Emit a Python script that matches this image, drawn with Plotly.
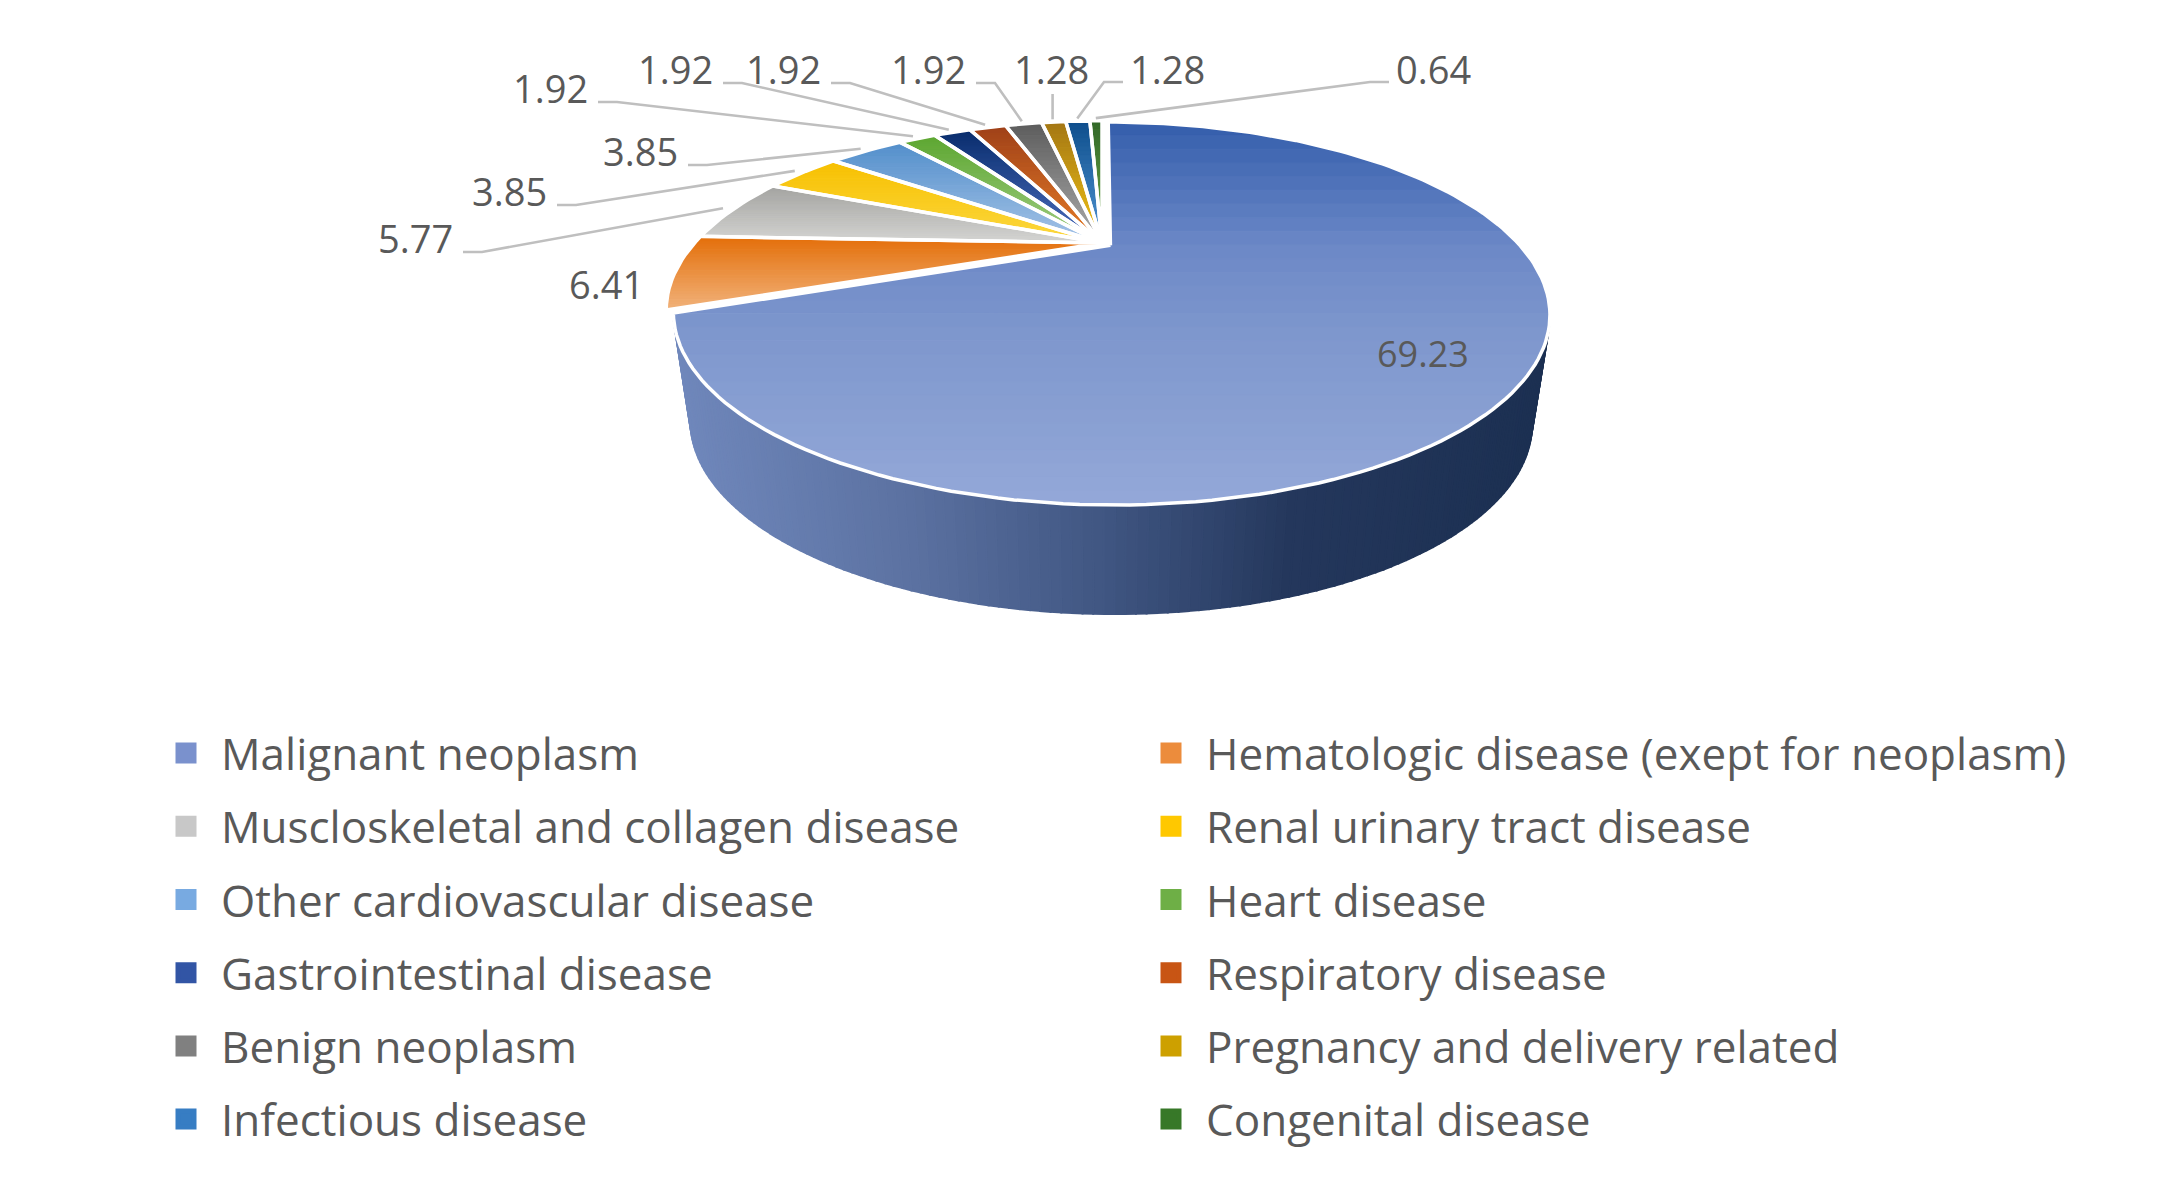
import numpy as np
import plotly.graph_objects as go

# ---------------- data ----------------
categories = [
    "Malignant neoplasm",
    "Hematologic disease (exept for neoplasm)",
    "Muscloskeletal and collagen disease",
    "Renal urinary tract disease",
    "Other cardiovascular disease",
    "Heart disease",
    "Gastrointestinal disease",
    "Respiratory disease",
    "Benign neoplasm",
    "Pregnancy and delivery related",
    "Infectious disease",
    "Congenital disease",
]
values = [69.23, 6.41, 5.77, 3.85, 3.85, 1.92, 1.92, 1.92, 1.92, 1.28, 1.28, 0.64]

# ---------------- styles ----------------
top_stops = [
    [(0, (52, 94, 172)), (0.33, (108, 136, 199)), (0.55, (126, 151, 205)), (1, (148, 168, 216))],
    [(0, (228, 110, 8)), (1, (241, 178, 122))],
    [(0, (163, 163, 160)), (1, (212, 212, 210))],
    [(0, (247, 192, 0)), (1, (252, 216, 64))],
    [(0, (82, 142, 203)), (1, (166, 196, 231))],
    [(0, (92, 166, 48)), (1, (162, 206, 132))],
    [(0, (8, 44, 108)), (1, (78, 112, 192))],
    [(0, (158, 64, 24)), (1, (232, 126, 40))],
    [(0, (92, 92, 92)), (1, (172, 172, 172))],
    [(0, (163, 118, 20)), (1, (242, 196, 20))],
    [(0, (14, 78, 140)), (1, (82, 150, 212))],
    [(0, (50, 104, 40)), (1, (112, 172, 72))],
]
side_stops = [(0, (112, 136, 188)), (0.27, (92, 114, 162)), (0.5, (64, 86, 130)),
              (0.72, (36, 55, 92)), (1, (28, 48, 82))]
legend_colors = ["#7A91CD", "#EC8C3C", "#C8C8C8", "#FFC800", "#78AAE1", "#6EAF46",
                 "#3255A5", "#C85514", "#808080", "#CDA000", "#377DC3", "#377828"]
pulls = [0.025] + [0.0] * 11

DX, DY = -10, -12   # global placement offset of pie and labels
label_xy = [(1425, 357), (608, 288), (417, 242), (511, 195), (642, 155), (552, 92),
            (677, 73), (785, 73), (930, 73), (1053, 73), (1169, 73), (1435, 73)]
leader_kind = ["none", "none", "left", "left", "left", "left", "left", "left", "left",
               "below", "right", "right"]

W, H = 2179, 1194
CX, CY = 1104 + DX, 247 + DY      # projected centre of the pie top
A, B, C = 407.5, 165.5, 0.3544    # perspective projection parameters
DEPTH, BOT_SCALE = 109, 0.96
TEXT = "#595959"
FONT = "Open Sans"


def project(X, Z):
    X = np.asarray(X, float)
    Z = np.asarray(Z, float)
    d = 1 + C * Z
    return CX + A * X / d, CY - B * Z / d


def lerp_stops(stops, t):
    t = min(max(t, 0.0), 1.0)
    for (t0, c0), (t1, c1) in zip(stops[:-1], stops[1:]):
        if t <= t1:
            f = 0 if t1 == t0 else (t - t0) / (t1 - t0)
            return "rgb(%d,%d,%d)" % tuple(round(a + (b - a) * f) for a, b in zip(c0, c1))
    return "rgb(%d,%d,%d)" % stops[-1][1]


def clip_half(poly, y0, keep_above):
    out = []
    n = len(poly)
    for i in range(n):
        p, q = poly[i], poly[(i + 1) % n]
        pin = p[1] >= y0 if keep_above else p[1] <= y0
        qin = q[1] >= y0 if keep_above else q[1] <= y0
        if pin:
            out.append(p)
        if pin != qin:
            t = (y0 - p[1]) / (q[1] - p[1])
            out.append((p[0] + t * (q[0] - p[0]), y0))
    return out


total = sum(values)
cum = np.concatenate([[0], np.cumsum(values)])
phi_start = np.radians(90 - 360 * cum[:-1] / total)
phi_end = np.radians(90 - 360 * cum[1:] / total)
phi_mid = (phi_start + phi_end) / 2
pull_x = np.array(pulls) * np.cos(phi_mid)
pull_z = np.array(pulls) * np.sin(phi_mid)

fig = go.Figure()

# ---- side wall (front visible part) ----
vis_lo, vis_hi = -np.pi + np.arcsin(C), -np.arcsin(C)   # silhouette angles
x_left = CX - A / np.sqrt(1 - C * C)
x_right = CX + A / np.sqrt(1 - C * C)
for i in range(len(values)):
    lo = max(phi_end[i], vis_lo)
    hi = min(phi_start[i], vis_hi)
    if hi - lo < np.radians(0.5):
        continue
    n = max(4, int(np.degrees(hi - lo) / 1.0))
    ph = np.linspace(hi, lo, n + 1)
    tx, ty = project(np.cos(ph) + pull_x[i], np.sin(ph) + pull_z[i])
    bx = CX + (tx - CX) * BOT_SCALE
    by = ty + DEPTH
    for k in range(n):
        xs = [tx[k], tx[k + 1], bx[k + 1], bx[k], tx[k]]
        ys = [ty[k], ty[k + 1], by[k + 1], by[k], ty[k]]
        f = ((tx[k] + tx[k + 1]) / 2 - x_left) / (x_right - x_left)
        col = lerp_stops(side_stops, f)
        fig.add_trace(go.Scatter(x=xs, y=ys, mode="lines", fill="toself", fillcolor=col,
                                 line=dict(color=col, width=2), hoverinfo="skip",
                                 showlegend=False))

# ---- top faces with vertical gradient ----
outlines = []
for i in range(len(values)):
    n = max(6, int(np.degrees(phi_start[i] - phi_end[i]) / 1.5))
    ph = np.linspace(phi_start[i], phi_end[i], n + 1)
    rx, ry = project(np.cos(ph) + pull_x[i], np.sin(ph) + pull_z[i])
    ax_, ay_ = project(pull_x[i], pull_z[i])
    poly = [(float(ax_), float(ay_))] + list(zip(rx.tolist(), ry.tolist()))
    outlines.append(poly)
    ys_all = [p[1] for p in poly]
    ymin, ymax = min(ys_all), max(ys_all)
    nb = 28
    edges = np.linspace(ymin, ymax, nb + 1)
    for k in range(nb):
        piece = clip_half(poly, edges[k] - 0.3, True)
        if len(piece) < 3:
            continue
        piece = clip_half(piece, edges[k + 1] + 0.3, False)
        if len(piece) < 3:
            continue
        col = lerp_stops(top_stops[i], (k + 0.5) / nb)
        xs = [p[0] for p in piece] + [piece[0][0]]
        ys = [p[1] for p in piece] + [piece[0][1]]
        fig.add_trace(go.Scatter(x=xs, y=ys, mode="lines", fill="toself", fillcolor=col,
                                 line=dict(color=col, width=0.8), hoverinfo="skip",
                                 showlegend=False))

for i, poly in enumerate(outlines):
    xs = [p[0] for p in poly] + [poly[0][0]]
    ys = [p[1] for p in poly] + [poly[0][1]]
    fig.add_trace(go.Scatter(x=xs, y=ys, mode="lines", line=dict(color="white", width=3.5),
                             name=categories[i], showlegend=False,
                             hovertemplate="%s: %.2f<extra></extra>" % (categories[i], values[i])))

# ---- leader lines and labels ----
annotations = []
for i, v in enumerate(values):
    tx, ty = label_xy[i][0] + DX, label_xy[i][1] + DY
    kind = leader_kind[i]
    px, py = project(1.03 * np.cos(phi_mid[i]) + pull_x[i], 1.03 * np.sin(phi_mid[i]) + pull_z[i])
    if kind == "left":
        lx = [tx + 48, tx + 67, float(px)]
        ly = [ty + 14, ty + 14, float(py)]
    elif kind == "right":
        lx = [tx - 44, tx - 63, float(px)]
        ly = [ty + 13, ty + 13, float(py)]
    elif kind == "below":
        lx = [float(px), float(px)]
        ly = [ty + 25, float(py)]
    else:
        lx = ly = None
    if lx is not None:
        fig.add_trace(go.Scatter(x=lx, y=ly, mode="lines", line=dict(color="#BFBFBF", width=2.6),
                                 hoverinfo="skip", showlegend=False))
    annotations.append(dict(x=tx, y=ty, xref="x", yref="y", text=f"{v:.2f}", showarrow=False,
                            font=dict(family=FONT, size=36 if i == 0 else 38, color=TEXT),
                            xanchor="center", yanchor="middle"))

# ---- legend entries ----
for i, cat in enumerate(categories):
    fig.add_trace(go.Scatter(x=[None], y=[None], mode="markers", name=cat,
                             marker=dict(symbol="square", size=16, color=legend_colors[i],
                                         line=dict(color=legend_colors[i], width=5)),
                             legend="legend" if i % 2 == 0 else "legend2",
                             legendgroup=cat, showlegend=True))

leg_common = dict(orientation="v", xanchor="left", yanchor="top", traceorder="grouped",
                  font=dict(family=FONT, size=44, color=TEXT), tracegroupgap=13,
                  itemwidth=60, bgcolor="rgba(0,0,0,0)", itemclick=False,
                  itemdoubleclick=False)
fig.update_layout(
    width=W, height=H,
    margin=dict(l=0, r=0, t=0, b=0),
    paper_bgcolor="white", plot_bgcolor="white",
    xaxis=dict(range=[0, W], visible=False, fixedrange=True),
    yaxis=dict(range=[H, 0], visible=False, fixedrange=True),
    annotations=annotations,
    legend=dict(x=143 / W, y=1 - 710 / H, **leg_common),
    legend2=dict(x=1128 / W, y=1 - 710 / H, **leg_common),
    hovermode="closest",
)

fig.write_html("out.html")
